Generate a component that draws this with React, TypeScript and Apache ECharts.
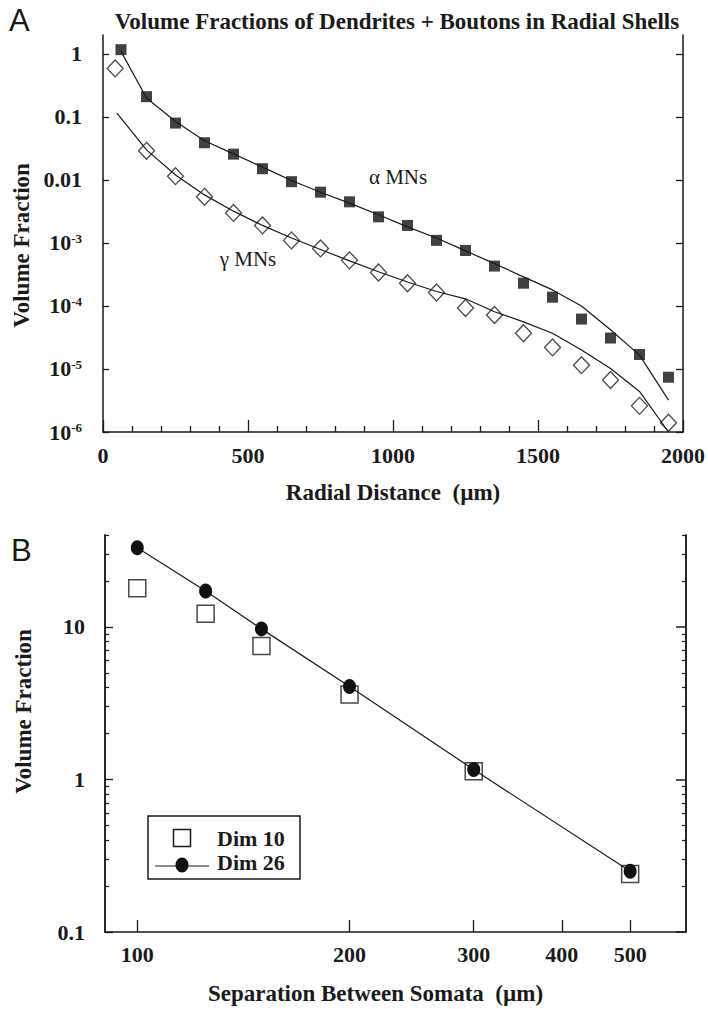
import React, { useEffect, useRef } from 'react';
import * as echarts from 'echarts';

// ---- Panel A data ----
const alphaX = [62, 150, 250, 350, 450, 550, 650, 750, 850, 950, 1050, 1150, 1250, 1350, 1450, 1550, 1650, 1750, 1850, 1950];
const alphaY = [1.17, 0.21, 0.08, 0.039, 0.0257, 0.0151, 0.0094, 0.0064, 0.0045, 0.0026, 0.0019, 0.0011, 0.00076, 0.00043, 0.00023, 0.000138, 6.2e-5, 3.1e-5, 1.7e-5, 7.4e-6];
const gammaX = [42, 150, 250, 350, 450, 550, 650, 750, 850, 950, 1050, 1150, 1250, 1350, 1450, 1550, 1650, 1750, 1850, 1950];
const gammaY = [0.59, 0.029, 0.0115, 0.0054, 0.003, 0.0019, 0.0011, 0.00082, 0.00053, 0.00034, 0.00023, 0.000164, 9.3e-5, 7.2e-5, 3.7e-5, 2.2e-5, 1.15e-5, 6.7e-6, 2.6e-6, 1.4e-6];
const alphaFitX = [62, 150, 250, 350, 450, 550, 650, 750, 850, 950, 1050, 1150, 1250, 1350, 1450, 1550, 1650, 1750, 1850, 1950];
const alphaFitY = [1.1, 0.2, 0.085, 0.042, 0.026, 0.016, 0.0098, 0.0064, 0.0043, 0.0028, 0.0018, 0.0012, 0.00075, 0.00047, 0.00029, 0.00018, 0.0001, 4.2e-5, 1.66e-5, 3.2e-6];
const gammaFitX = [48, 150, 250, 350, 450, 550, 650, 750, 850, 950, 1050, 1150, 1250, 1350, 1450, 1550, 1650, 1750, 1850, 1950];
const gammaFitY = [0.115, 0.03, 0.012, 0.0058, 0.0032, 0.0019, 0.0012, 0.00079, 0.00052, 0.00035, 0.00024, 0.00017, 0.00013, 8.1e-5, 5.6e-5, 3.7e-5, 2e-5, 1.02e-5, 4.4e-6, 1e-6];
const topYTicks = [1e-6, 1e-5, 1e-4, 1e-3, 0.01, 0.1, 1];

// ---- Panel B data ----
const sepX = [100, 125, 150, 200, 300, 500];
const dim10Y = [17.9, 12.2, 7.5, 3.6, 1.13, 0.24];
const dim26Y = [33, 17.2, 9.7, 4.06, 1.16, 0.25];
const bottomXTicks = [100, 200, 300, 400, 500];
const bottomYMajor = [0.1, 1, 10];
const bottomYMinor = [0.2, 0.3, 0.4, 0.5, 0.6, 0.7, 0.8, 0.9, 2, 3, 4, 5, 6, 7, 8, 9, 20, 30, 40];

const pairs = (xs: number[], ys: number[]) => xs.map((x, i) => [x, ys[i]]);

const SERIF = '"Liberation Serif", "Times New Roman", serif';
const SANS = '"Liberation Sans", Arial, sans-serif';
const INK = '#1a1a1a';
const axisLine = { show: true, lineStyle: { color: INK, width: 1.5 } };
const tickLabel = { fontFamily: SERIF, fontWeight: 'bold' as const, fontSize: 22, color: INK };
const nameStyle = { fontFamily: SERIF, fontWeight: 'bold' as const, fontSize: 23, color: INK };

function topYLabel(v: number) {
  const e = Math.round(Math.log10(v));
  if (e >= -2) return String(Math.pow(10, e).toFixed(Math.max(0, -e)));
  return '{b|10}{s|' + e + '}';
}

export default function App() {
  const ref = useRef<HTMLDivElement>(null);
  useEffect(() => {
    if (!ref.current) return;
    const chart = echarts.init(ref.current, undefined, { renderer: 'svg' });
    const option: any = {
      animation: false,
      backgroundColor: '#fff',
      title: {
        text: 'Volume Fractions of Dendrites + Boutons in Radial Shells',
        left: 392,
        top: 5,
        textAlign: 'center',
        textStyle: { fontFamily: SERIF, fontWeight: 'bold', fontSize: 23, color: INK },
      },
      grid: [
        { left: 103, top: 35, width: 583, height: 397 },
        { left: 105, top: 535, width: 581, height: 397 },
      ],
      xAxis: [
        {
          gridIndex: 0, type: 'value', min: 0, max: 2000, interval: 500,
          axisLine,
          axisTick: { show: true, inside: true, length: 12, lineStyle: { color: INK, width: 1.3 } },
          minorTick: { show: true, splitNumber: 5, length: 6, lineStyle: { color: INK, width: 1.3 } },
          splitLine: { show: false }, minorSplitLine: { show: false },
          axisLabel: { ...tickLabel, margin: 12, formatter: (v: number) => String(v) },
          name: 'Radial Distance  (µm)', nameLocation: 'middle', nameGap: 49, nameTextStyle: nameStyle,
        },
        {
          gridIndex: 1, type: 'log', logBase: 10, min: 90, max: 600,
          axisLine,
          axisTick: { show: true, inside: true, length: 12, customValues: bottomXTicks, lineStyle: { color: INK, width: 1.3 } },
          splitLine: { show: false },
          axisLabel: { ...tickLabel, margin: 11, customValues: bottomXTicks, formatter: (v: number) => String(Math.round(v)) },
          name: 'Separation Between Somata  (µm)', nameLocation: 'middle', nameGap: 50,
          nameTextStyle: { ...nameStyle, padding: [0, 40, 0, 0] },
        },
      ],
      yAxis: [
        {
          gridIndex: 0, type: 'log', logBase: 10, min: 1e-6, max: 2, position: 'left',
          axisLine,
          axisTick: { show: true, inside: true, length: 6, customValues: topYTicks, lineStyle: { color: INK, width: 1.3 } },
          splitLine: { show: false },
          axisLabel: {
            ...tickLabel, margin: 21, customValues: topYTicks, formatter: topYLabel,
            rich: {
              b: { fontFamily: SERIF, fontWeight: 'bold', fontSize: 22, color: INK },
              s: { fontFamily: SERIF, fontWeight: 'bold', fontSize: 13, color: INK, verticalAlign: 'top', padding: [0, 0, 8, 0] },
            },
          },
          name: 'Volume Fraction', nameLocation: 'middle', nameGap: 70, nameRotate: 90,
          nameTextStyle: { ...nameStyle, padding: [0, 24, 0, 0] },
        },
        {
          gridIndex: 0, type: 'log', logBase: 10, min: 1e-6, max: 2, position: 'right',
          axisLine,
          axisTick: { show: true, inside: true, length: 7, customValues: topYTicks, lineStyle: { color: INK, width: 1.3 } },
          splitLine: { show: false },
          axisLabel: { show: false },
        },
        {
          gridIndex: 1, type: 'log', logBase: 10, min: 0.1, max: 40, position: 'left',
          axisLine,
          axisTick: { show: true, inside: true, length: 8, customValues: bottomYMajor, lineStyle: { color: INK, width: 1.3 } },
          splitLine: { show: false },
          axisLabel: {
            ...tickLabel, margin: 20, customValues: bottomYMajor, padding: [0, 0, 8, 0],
            formatter: (v: number) => (v < 1 ? v.toFixed(1) : String(Math.round(v))),
          },
          name: 'Volume Fraction', nameLocation: 'middle', nameGap: 70, nameRotate: 90,
          nameTextStyle: { ...nameStyle, padding: [0, 0, 0, 44] },
        },
        {
          gridIndex: 1, type: 'log', logBase: 10, min: 0.1, max: 40, position: 'left',
          axisLine,
          axisTick: { show: true, inside: true, length: 4, customValues: bottomYMinor, lineStyle: { color: INK, width: 1.2 } },
          splitLine: { show: false },
          axisLabel: { show: false },
        },
        {
          gridIndex: 1, type: 'log', logBase: 10, min: 0.1, max: 40, position: 'right',
          axisLine,
          axisTick: { show: true, inside: true, length: 10, customValues: bottomYMajor, lineStyle: { color: INK, width: 1.5 } },
          splitLine: { show: false },
          axisLabel: { show: false },
        },
        {
          gridIndex: 1, type: 'log', logBase: 10, min: 0.1, max: 40, position: 'right',
          axisLine,
          axisTick: { show: true, inside: true, length: 4, customValues: bottomYMinor, lineStyle: { color: INK, width: 1.2 } },
          splitLine: { show: false },
          axisLabel: { show: false },
        },
      ],
      series: [
        {
          name: 'α MNs fit', type: 'line', xAxisIndex: 0, yAxisIndex: 0, data: pairs(alphaFitX, alphaFitY),
          showSymbol: false, lineStyle: { color: INK, width: 1.2 },
        },
        {
          name: 'γ MNs fit', type: 'line', xAxisIndex: 0, yAxisIndex: 0, data: pairs(gammaFitX, gammaFitY),
          showSymbol: false, lineStyle: { color: INK, width: 1.2 },
        },
        {
          name: 'α MNs', type: 'scatter', xAxisIndex: 0, yAxisIndex: 0, data: pairs(alphaX, alphaY),
          symbol: 'rect', symbolSize: 11, itemStyle: { color: '#111' },
        },
        {
          name: 'γ MNs', type: 'scatter', xAxisIndex: 0, yAxisIndex: 0, data: pairs(gammaX, gammaY),
          symbol: 'diamond', symbolSize: [16, 17], itemStyle: { color: '#fff', borderColor: INK, borderWidth: 1.3 },
        },
        {
          name: 'Dim 10', type: 'scatter', xAxisIndex: 1, yAxisIndex: 2, data: pairs(sepX, dim10Y),
          symbol: 'rect', symbolSize: 17, itemStyle: { color: 'rgba(255,255,255,0)', borderColor: INK, borderWidth: 1.5 },
        },
        {
          name: 'Dim 26', type: 'line', xAxisIndex: 1, yAxisIndex: 2, data: pairs(sepX, dim26Y),
          symbol: 'circle', symbolSize: [13, 15], showSymbol: true,
          itemStyle: { color: '#111' }, lineStyle: { color: INK, width: 1.2 },
        },
      ],
      graphic: [
        { type: 'text', left: 9, top: 5, style: { text: 'A', font: '31px ' + SANS, fill: INK } },
        { type: 'text', left: 11, top: 535, style: { text: 'B', font: '31px ' + SANS, fill: INK } },
        { type: 'text', x: 398, y: 177, style: { text: 'α MNs', font: '21px ' + SERIF, fill: INK, align: 'center', verticalAlign: 'middle' } },
        { type: 'text', x: 248, y: 259, style: { text: 'γ MNs', font: '21px ' + SERIF, fill: INK, align: 'center', verticalAlign: 'middle' } },
        { type: 'rect', shape: { x: 148, y: 816, width: 152, height: 63 }, style: { fill: '#fff', stroke: INK, lineWidth: 1.5 }, z: 100 },
        { type: 'rect', shape: { x: 173.5, y: 829.5, width: 17, height: 17 }, style: { fill: 'none', stroke: INK, lineWidth: 1.5 }, z: 101 },
        { type: 'text', x: 217, y: 838, style: { text: 'Dim 10', font: 'bold 22px ' + SERIF, fill: INK, verticalAlign: 'middle' }, z: 101 },
        { type: 'line', shape: { x1: 155, y1: 866, x2: 209, y2: 866 }, style: { stroke: INK, lineWidth: 1.2 }, z: 101 },
        { type: 'ellipse', shape: { cx: 182, cy: 865, rx: 6.5, ry: 7.5 }, style: { fill: '#111' }, z: 102 },
        { type: 'text', x: 217, y: 862, style: { text: 'Dim 26', font: 'bold 22px ' + SERIF, fill: INK, verticalAlign: 'middle' }, z: 101 },
      ],
    };
    chart.setOption(option);
    return () => chart.dispose();
  }, []);
  return <div ref={ref} style={{ width: 708, height: 1009, position: 'absolute', left: 0, top: 0 }} />;
}
